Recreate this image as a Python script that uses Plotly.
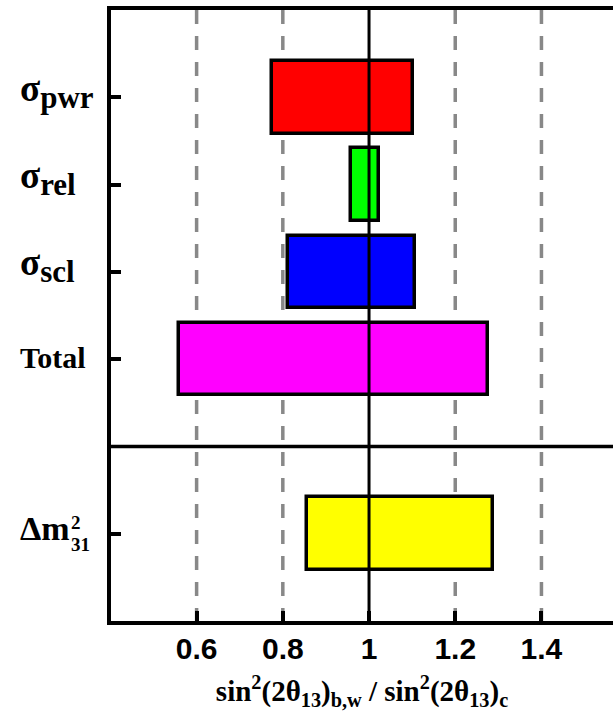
import plotly.graph_objects as go

# Data
label_main = ["σ", "σ", "σ", "Total"]
label_sub = ["pwr", "rel", "scl", ""]
positions = [1, 2, 3, 4, 6]
lows = [0.776, 0.959, 0.811, 0.560, 0.857]
highs = [1.103, 1.024, 1.106, 1.277, 1.287]
colors = ["#ff0000", "#00ff00", "#0000ff", "#ff00ff", "#ffff00"]
xticks = [0.6, 0.8, 1.0, 1.2, 1.4]
xticklabels = ["0.6", "0.8", "1", "1.2", "1.4"]

widths = [h - l for l, h in zip(lows, highs)]

W, H = 613, 711
L, T, B = 111, 10, 90
xr = [0.4014, 1.566]
SERIF = "Liberation Serif"

fig = go.Figure()
fig.add_trace(go.Bar(
    y=positions, x=widths, base=lows, orientation="h", width=0.83,
    marker=dict(color=colors, line=dict(color="black", width=3.5)),
    showlegend=False, hoverinfo="skip",
))

# dashed grid lines
for xv in [0.6, 0.8, 1.2, 1.4]:
    fig.add_shape(type="line", x0=xv, x1=xv, y0=0, y1=7, xref="x", yref="y",
                  line=dict(color="#888888", width=3.5, dash="14px,12px"), layer="below")
# solid line at 1
fig.add_shape(type="line", x0=1, x1=1, y0=0, y1=7, xref="x", yref="y",
              line=dict(color="black", width=3), layer="above")
# separator
fig.add_shape(type="line", x0=0, x1=1, y0=5, y1=5, xref="paper", yref="y",
              line=dict(color="black", width=3.5))

fig.update_yaxes(range=[7, 0], tickvals=positions, ticktext=[""] * len(positions),
                 ticks="inside", ticklen=10, tickwidth=3.5, tickcolor="black",
                 showline=True, linewidth=4, linecolor="black", mirror=False,
                 showgrid=False, zeroline=False)
fig.update_xaxes(range=xr, tickvals=xticks, ticktext=xticklabels,
                 ticks="inside", ticklen=10, tickwidth=3.5, tickcolor="black",
                 showline=True, linewidth=4, linecolor="black", mirror=True,
                 showgrid=False, zeroline=False, ticklabelstandoff=-2,
                 tickfont=dict(family="Liberation Sans", size=30, color="black", weight="bold"),
                 title=dict(text="sin<sup>2</sup>(2θ<sub>13</sub>)<sub>b,w</sub> / sin<sup>2</sup>(2θ<sub>13</sub>)<sub>c</sub>",
                            font=dict(family=SERIF, size=29, color="black", weight="bold"),
                            standoff=19))

xl = (18 - L) / (W - L)
# y labels as left-aligned texts
for m, s, p in zip(label_main, label_sub, positions[:4]):
    if s:
        txt = f"<span style='font-size:37px'>{m}</span><sub><span style='font-size:31px'>{s}</span></sub>"
        fig.add_annotation(text=txt, xref="paper", yref="y", x=xl, y=p,
                           xanchor="left", yanchor="middle", showarrow=False, yshift=6,
                           font=dict(family=SERIF, size=31, color="black", weight="bold"))
    else:
        fig.add_annotation(text=m, xref="paper", yref="y", x=xl, y=p,
                           xanchor="left", yanchor="middle", showarrow=False, yshift=2,
                           font=dict(family=SERIF, size=30, color="black", weight="bold"))

# Delta m^2_31 label
fig.add_annotation(text="Δm", xref="paper", yref="y", x=xl, y=6,
                   xanchor="left", yanchor="middle", showarrow=False, yshift=5,
                   font=dict(family=SERIF, size=34, color="black", weight="bold"))
fig.add_annotation(text="2", xref="paper", yref="y", x=(69 - L) / (W - L), y=6,
                   xanchor="left", yanchor="middle", showarrow=False, yshift=11,
                   font=dict(family=SERIF, size=19, color="black", weight="bold"))
fig.add_annotation(text="31", xref="paper", yref="y", x=(69 - L) / (W - L), y=6,
                   xanchor="left", yanchor="middle", showarrow=False, yshift=-11,
                   font=dict(family=SERIF, size=19, color="black", weight="bold"))

fig.update_layout(width=W, height=H, margin=dict(l=L, r=0, t=T, b=B),
                  plot_bgcolor="white", paper_bgcolor="white", bargap=0)
fig.write_html("out.html")
